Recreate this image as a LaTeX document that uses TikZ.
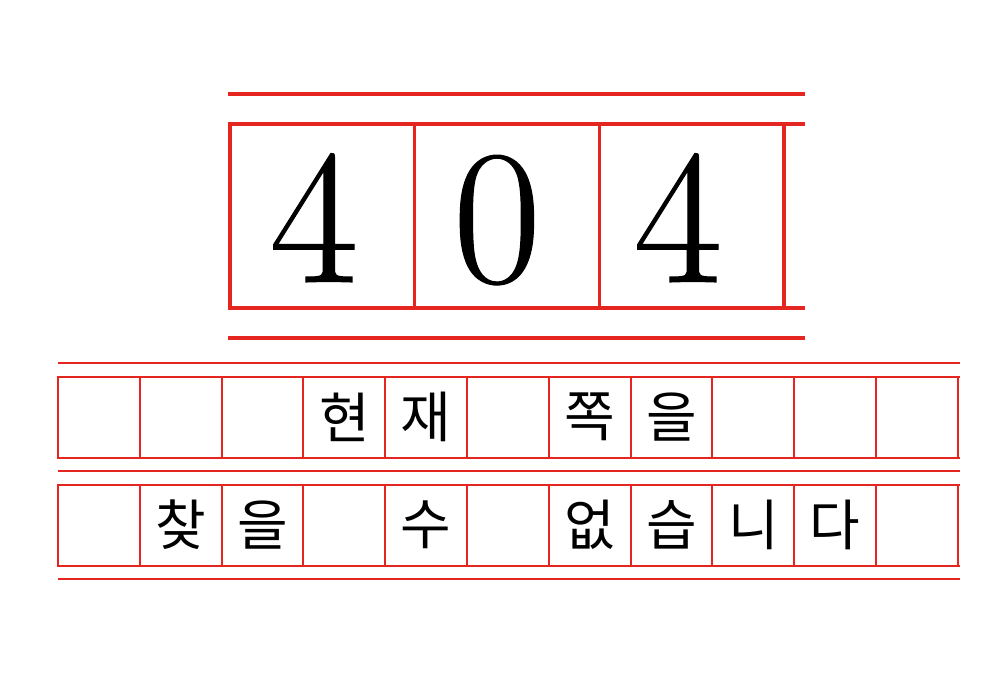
\documentclass[tikz,border=0pt]{standalone}
\usepackage{fontspec}
\newfontfamily\kr{Noto Sans CJK KR}
\newfontfamily\digitfont[FakeBold=0.6]{Latin Modern Roman}
\definecolor{gridred}{RGB}{229,38,32}
\begin{document}
\begin{tikzpicture}[x=1pt,y=-1pt,
  bigcell/.style={draw=gridred,line width=3.5pt,minimum width=184.7pt,minimum height=184pt,inner sep=0pt,outer sep=0pt},
  smallcell/.style={draw=gridred,line width=2pt,minimum width=81.8pt,minimum height=81pt,inner sep=0pt,outer sep=0pt},
  rule/.style={draw=gridred,line width=3.5pt},
  thinrule/.style={draw=gridred,line width=2.2pt},
  digit/.style={inner sep=0pt,anchor=base,font=\digitfont\fontsize{192}{192}\selectfont},
  hangul/.style={inner sep=0pt,font=\kr\fontsize{55}{55}\selectfont}]
\useasboundingbox (0,0) rectangle (1000,700);
% top block
\coordinate (tl1) at (228,94); \coordinate (tr1) at (805,94);
\coordinate (tl2) at (228,338); \coordinate (tr2) at (805,338);
\draw[rule] (tl1) -- (tr1);
\draw[rule] (tl2) -- (tr2);
\foreach \i in {0,1,2}{
  \node[bigcell] (b\i) at ({230+184.7*\i+92.35},216) {};
}
\coordinate (pt) at (805,124); \coordinate (pb) at (805,308);
\draw[rule] (b2.north east) -- (pt);
\draw[rule] (b2.south east) -- (pb);
\node[digit] (d1) at (314,282) {4};
\node[digit] (d2) at (497,282) {0};
\node[digit] (d3) at (678,282) {4};
% bottom block
\foreach \y/\n in {363/a,471/b,579/c}{
  \coordinate (l\n) at (58,\y); \coordinate (r\n) at (960,\y);
  \draw[thinrule] (l\n) -- (r\n);
}
\foreach \k in {0,...,10}{
  \node[smallcell] (u\k) at ({58+81.8*\k+40.9},417) {};
  \node[smallcell] (v\k) at ({58+81.8*\k+40.9},525) {};
}
\coordinate (ue) at (960,376.5); \coordinate (uf) at (960,457.5);
\coordinate (ve) at (960,484.5); \coordinate (vf) at (960,565.5);
\draw[draw=gridred,line width=2pt] (u10.north east) -- (ue);
\draw[draw=gridred,line width=2pt] (u10.south east) -- (uf);
\draw[draw=gridred,line width=2pt] (v10.north east) -- (ve);
\draw[draw=gridred,line width=2pt] (v10.south east) -- (vf);
\node[hangul] (h1) at (u3) {현};
\node[hangul] (h2) at (u4) {재};
\node[hangul] (h3) at (u6) {쪽};
\node[hangul] (h4) at (u7) {을};
\node[hangul] (g1) at (v1) {찾};
\node[hangul] (g2) at (v2) {을};
\node[hangul] (g3) at (v4) {수};
\node[hangul] (g4) at (v6) {없};
\node[hangul] (g5) at (v7) {습};
\node[hangul] (g6) at (v8) {니};
\node[hangul] (g7) at (v9) {다};
\end{tikzpicture}
\end{document}
